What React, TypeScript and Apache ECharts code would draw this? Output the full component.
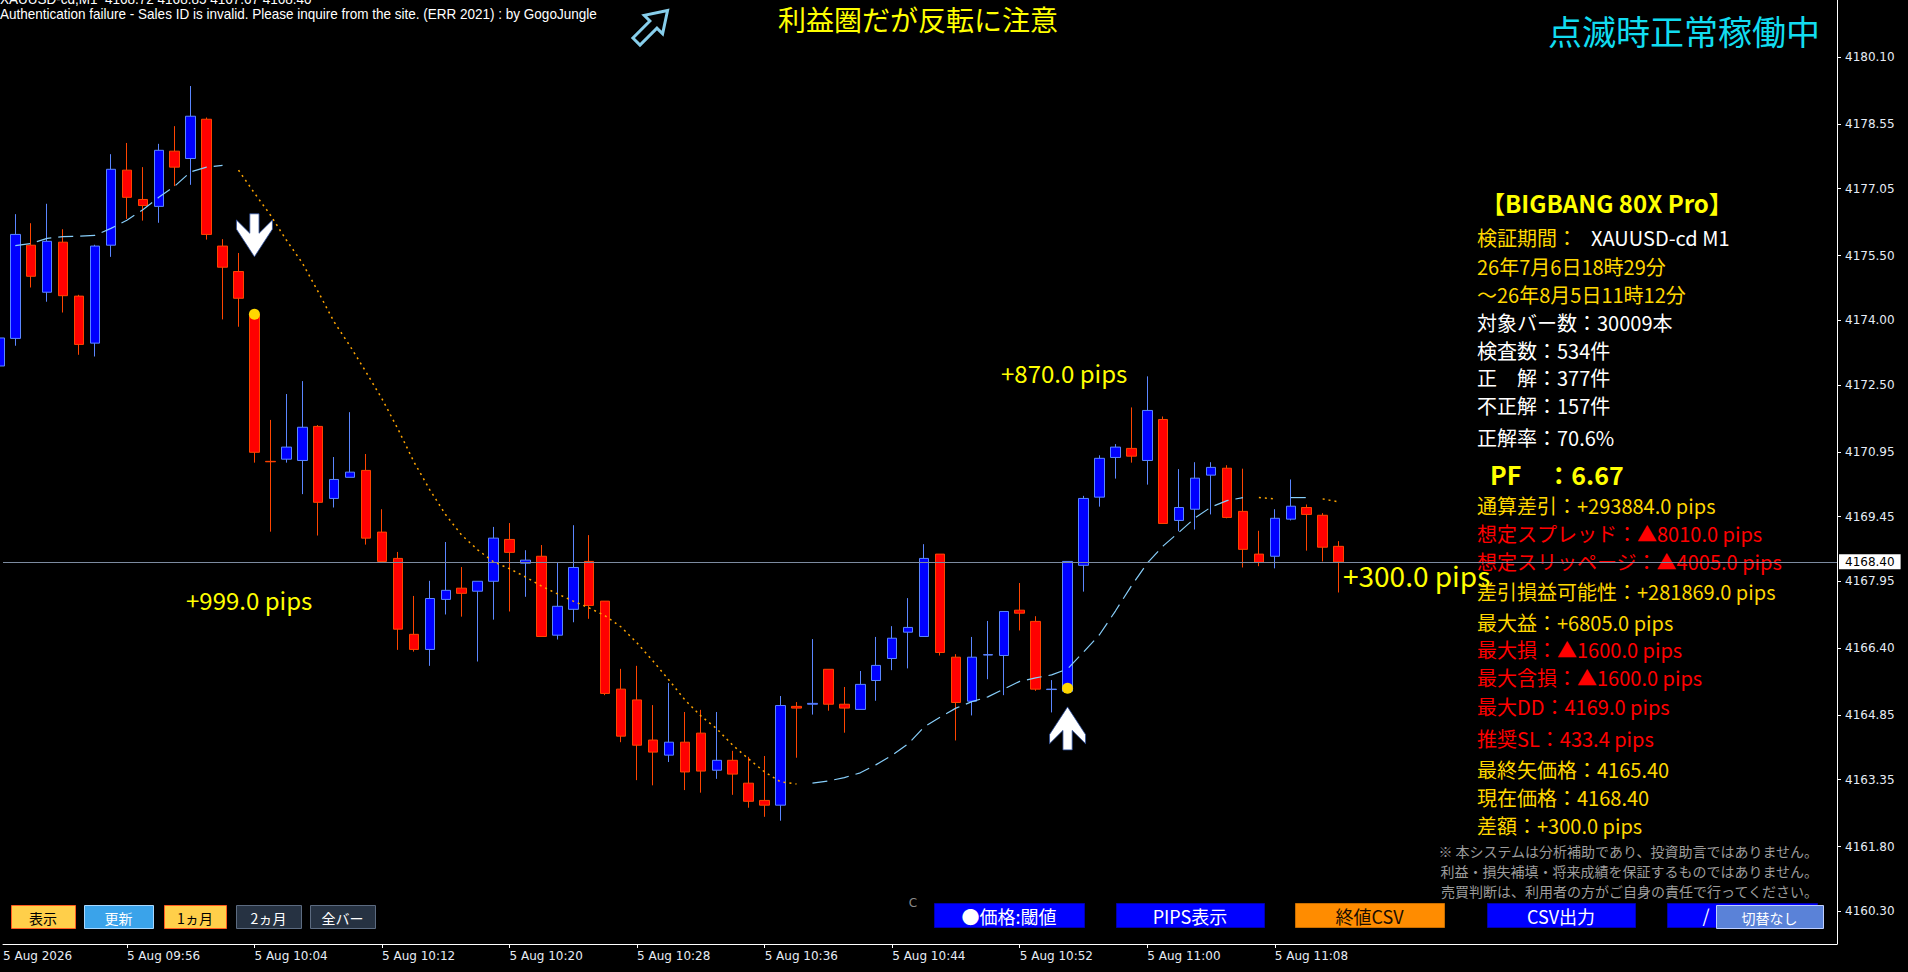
import React, { useEffect, useRef } from "react";
import * as echarts from "echarts";

// ---------- DATA ----------
const FIRST_INDEX = -1; // candle index of the first bar (09:48)
const opens = [4172.94, 4173.58, 4175.74, 4174.65, 4175.81, 4174.56, 4173.47, 4175.74, 4177.48, 4176.80, 4176.64, 4177.92, 4177.75, 4178.66, 4175.72, 4175.13, 4174.11, 4170.73, 4170.78, 4170.75, 4171.54, 4169.87, 4170.36, 4170.52, 4169.09, 4168.48, 4166.72, 4166.37, 4167.53, 4167.79, 4167.72, 4167.95, 4168.92, 4168.37, 4168.53, 4166.70, 4167.30, 4168.41, 4167.49, 4165.45, 4165.20, 4164.27, 4163.92, 4164.22, 4164.43, 4163.57, 4163.80, 4163.27, 4162.87, 4162.76, 4165.05, 4165.10, 4165.91, 4165.10, 4164.98, 4165.65, 4166.16, 4166.77, 4166.67, 4168.58, 4166.19, 4165.17, 4166.24, 4166.23, 4167.28, 4167.02, 4165.44, 4165.40, 4168.32, 4169.90, 4170.82, 4171.03, 4170.75, 4171.70, 4169.36, 4169.62, 4170.41, 4170.57, 4169.57, 4168.58, 4168.53, 4169.39, 4169.66, 4169.48, 4168.76];
const closes = [4173.59, 4175.99, 4175.02, 4175.83, 4174.57, 4173.44, 4175.72, 4177.50, 4176.85, 4176.66, 4177.94, 4177.55, 4178.73, 4175.99, 4175.23, 4174.51, 4170.94, 4170.72, 4171.06, 4171.52, 4169.78, 4170.31, 4170.48, 4168.95, 4168.41, 4166.84, 4166.37, 4167.55, 4167.74, 4167.67, 4167.95, 4168.95, 4168.62, 4168.44, 4166.67, 4167.37, 4168.27, 4167.39, 4165.35, 4164.36, 4164.15, 4163.99, 4164.22, 4163.53, 4163.55, 4163.80, 4163.48, 4162.85, 4162.76, 4165.07, 4165.01, 4165.12, 4165.10, 4165.01, 4165.56, 4166.00, 4166.63, 4166.88, 4168.48, 4166.30, 4165.14, 4166.19, 4166.25, 4167.25, 4167.21, 4165.45, 4165.45, 4168.41, 4169.87, 4170.80, 4171.06, 4170.85, 4171.91, 4169.29, 4169.66, 4170.34, 4170.59, 4169.43, 4168.69, 4168.39, 4169.41, 4169.69, 4169.50, 4168.74, 4168.40];
const lows = [4172.85, 4173.41, 4174.76, 4174.43, 4174.18, 4173.20, 4173.16, 4175.47, 4176.35, 4176.31, 4176.26, 4177.11, 4177.14, 4175.87, 4174.02, 4173.85, 4170.70, 4169.10, 4170.70, 4169.97, 4169.01, 4169.66, 4170.36, 4168.80, 4168.41, 4166.36, 4166.32, 4165.99, 4167.18, 4167.13, 4166.09, 4167.06, 4167.25, 4167.59, 4166.67, 4166.60, 4167.00, 4167.08, 4165.31, 4164.22, 4163.34, 4163.22, 4163.76, 4163.11, 4163.05, 4163.37, 4163.00, 4162.70, 4162.49, 4162.40, 4163.86, 4164.86, 4164.95, 4164.44, 4164.98, 4165.18, 4165.89, 4165.93, 4166.67, 4166.23, 4164.26, 4164.84, 4165.68, 4165.31, 4166.81, 4165.41, 4164.91, 4165.40, 4167.71, 4169.68, 4170.33, 4170.70, 4170.19, 4169.29, 4169.11, 4169.15, 4169.50, 4169.41, 4168.27, 4168.30, 4168.25, 4169.36, 4168.66, 4168.41, 4167.69];
const highs = [4173.82, 4176.46, 4176.25, 4176.70, 4176.11, 4174.59, 4175.75, 4177.85, 4178.11, 4177.55, 4178.09, 4178.50, 4179.43, 4178.70, 4175.88, 4175.56, 4174.12, 4171.69, 4172.29, 4172.59, 4171.57, 4170.83, 4171.87, 4170.90, 4169.62, 4168.63, 4167.61, 4167.96, 4168.86, 4168.28, 4167.95, 4169.21, 4169.30, 4168.67, 4168.79, 4168.39, 4169.25, 4169.02, 4167.49, 4165.92, 4165.99, 4165.08, 4165.59, 4164.92, 4164.97, 4164.92, 4164.02, 4163.88, 4163.90, 4165.29, 4165.15, 4166.61, 4165.91, 4165.50, 4165.87, 4166.66, 4166.91, 4167.56, 4168.81, 4168.58, 4166.26, 4166.66, 4167.03, 4167.25, 4167.91, 4167.14, 4165.66, 4168.41, 4169.93, 4170.87, 4171.13, 4171.98, 4172.70, 4171.77, 4170.55, 4170.71, 4170.71, 4170.64, 4170.56, 4169.12, 4169.62, 4170.31, 4169.73, 4169.53, 4168.88];

// trend line value per candle (index aligned with candles, first bar has none)
const trendLine = [null, 4175.73, 4175.78, 4175.90, 4175.94, 4175.95, 4175.97, 4176.13, 4176.32, 4176.56, 4176.85, 4177.11, 4177.44, 4177.55, 4177.59,
  4177.48, 4176.95, 4176.44, 4175.86, 4175.33, 4174.66, 4173.96, 4173.40, 4172.80, 4172.18, 4171.48, 4170.72, 4170.07, 4169.49, 4169.02, 4168.68, 4168.40, 4168.24, 4168.05, 4167.84, 4167.66, 4167.49, 4167.33, 4167.15, 4166.89, 4166.52, 4166.10, 4165.66, 4165.20, 4164.83, 4164.53, 4164.15, 4163.83, 4163.53, 4163.30, 4163.25,
  4163.27, 4163.32, 4163.40, 4163.51, 4163.70, 4163.92, 4164.18, 4164.57, 4164.80, 4165.01, 4165.16, 4165.27, 4165.45, 4165.63, 4165.71, 4165.78, 4165.92, 4166.31, 4166.71, 4167.26, 4167.84, 4168.37, 4168.77, 4169.09, 4169.42, 4169.67, 4169.82, 4169.89, 4169.89, 4169.86, 4169.89, 4169.89, 4169.86, 4169.79];
const upTrendSegments = [[0, 13], [50, 77], [80, 81]];
const downTrendSegments = [[14, 49], [78, 79], [82, 83]];

const dateLabel = "5 Aug 2026";
const timeTickIndex = [7, 15, 23, 31, 39, 47, 55, 63, 71, 79];
const timeTickLabels = ["5 Aug 09:56", "5 Aug 10:04", "5 Aug 10:12", "5 Aug 10:20", "5 Aug 10:28", "5 Aug 10:36", "5 Aug 10:44", "5 Aug 10:52", "5 Aug 11:00", "5 Aug 11:08"];
const priceTicks = [4180.10, 4178.55, 4177.05, 4175.50, 4174.00, 4172.50, 4170.95, 4169.45, 4167.95, 4166.40, 4164.85, 4163.35, 4161.80, 4160.30];
const currentPrice = 4168.40;

const sellSignal = { index: 15, arrowPrice: 4175.97, dotPrice: 4174.14 };
const buySignal = { index: 66, arrowPrice: 4164.54, dotPrice: 4165.47 };

const panelLines = [
  { text: "26年7月6日18時29分", color: "gold" },
  { text: "～26年8月5日11時12分", color: "gold" },
  { text: "対象バー数：30009本", color: "white" },
  { text: "検査数：534件", color: "white" },
  { text: "正　解：377件", color: "white" },
  { text: "不正解：157件", color: "white" },
  { text: "正解率：70.6%", color: "white" },
];
const statLines = [
  { text: "通算差引：+293884.0 pips", color: "gold" },
  { text: "想定スプレッド：▲8010.0 pips", color: "red" },
  { text: "想定スリッページ：▲4005.0 pips", color: "red" },
  { text: "差引損益可能性：+281869.0 pips", color: "gold" },
  { text: "最大益：+6805.0 pips", color: "gold" },
  { text: "最大損：▲1600.0 pips", color: "red" },
  { text: "最大含損：▲1600.0 pips", color: "red" },
  { text: "最大DD：4169.0 pips", color: "red" },
  { text: "推奨SL：433.4 pips", color: "red" },
  { text: "最終矢価格：4165.40", color: "gold" },
  { text: "現在価格：4168.40", color: "gold" },
  { text: "差額：+300.0 pips", color: "gold" },
];
const disclaimer = [
  "※ 本システムは分析補助であり、投資助言ではありません。",
  "利益・損失補填・将来成績を保証するものではありません。",
  "売買判断は、利用者の方がご自身の責任で行ってください。",
];

// ---------- LAYOUT / STYLE ----------
const W = 1908;
const H = 972;
const X_MIN = -0.77;
const X_MAX = 114.26;
const Y_MIN = 4159.542;
const Y_MAX = 4181.424;
const JP = '"Noto Sans CJK JP", sans-serif';
const COLORS: Record<string, string> = { gold: "#FFD700", white: "#FFFFFF", red: "#FF0000", yellow: "#FFFF00" };

const DOWN_ARROW = "path://M13,0L22,0L22,19L35,6L35,15L17.5,42L0,15L0,6L13,19Z";
const UP_ARROW = "path://M13,42L22,42L22,23L35,36L35,27L17.5,0L0,27L0,36L13,23Z";

function txt(x: number, y: number, text: string, fill: string, font: string, align = "left", extra: any = {}) {
  return {
    type: "text",
    x,
    y,
    silent: true,
    ...extra,
    style: { text, fill, font, textAlign: align, textVerticalAlign: "middle" },
  };
}

function button(x: number, y: number, w: number, h: number, fill: string, stroke: string, label: string, color: string, size: number) {
  return [
    { type: "rect", silent: true, shape: { x: x + 0.5, y: y + 0.5, width: w, height: h }, style: { fill, stroke, lineWidth: 1 } },
    txt(x + w / 2, y + h / 2 + 1, label, color, `${size}px ${JP}`, "center"),
  ];
}

export default function App() {
  const ref = useRef<HTMLDivElement>(null);

  useEffect(() => {
    if (!ref.current) return;
    const chart = echarts.init(ref.current, null, { renderer: "svg" });

    const candles = opens.map((o, i) => [i + FIRST_INDEX, o, closes[i], lows[i], highs[i]]);
    const seg = (a: number, b: number) => {
      const out: any[] = [];
      for (let k = a; k <= b; k++) out.push([k, trendLine[k - FIRST_INDEX]]);
      return out;
    };
    const lineSeries: any[] = [];
    upTrendSegments.forEach(([a, b]) =>
      lineSeries.push({
        type: "line", data: seg(a, b), showSymbol: false, silent: true, z: 3,
        lineStyle: { color: "#87CEFA", width: 1.2, type: [15, 7] },
      })
    );
    downTrendSegments.forEach(([a, b]) =>
      lineSeries.push({
        type: "line", data: seg(a, b), showSymbol: false, silent: true, z: 3,
        lineStyle: { color: "#FFA500", width: 1.5, type: [2, 4] },
      })
    );

    const graphic: any[] = [];
    // top texts (the first line is partly above the top edge, as in the terminal)
    graphic.push(txt(0, -1, "XAUUSD-cd,M1  4168.72 4168.85 4167.67 4168.40", "#FFFFFF", '14px "Liberation Sans"', "left", { scaleX: 0.965 }));
    graphic.push(txt(0, 14, "Authentication failure - Sales ID is invalid. Please inquire from the site. (ERR 2021) : by GogoJungle", "#FFFFFF", '14px "Liberation Sans"', "left", { scaleX: 0.965 }));
    graphic.push({
      type: "polygon", silent: true, x: 652, y: 26, rotation: -Math.PI / 4,
      shape: { points: [[-5, 22], [5, 22], [5, -2], [13, -2], [0, -22], [-13, -2], [-5, -2]] },
      style: { fill: "none", stroke: "#87CEEB", lineWidth: 3 },
    });
    graphic.push(txt(778, 19, "利益圏だが反転に注意", COLORS.yellow, `28px ${JP}`));
    graphic.push(txt(1820, 30, "点滅時正常稼働中", "#12DCF0", `34px ${JP}`, "right"));

    // pips annotations
    graphic.push(txt(186, 599, "+999.0 pips", COLORS.yellow, `24px ${JP}`));
    graphic.push(txt(1001, 372, "+870.0 pips", COLORS.yellow, `24px ${JP}`));
    graphic.push(txt(1343, 575, "+300.0 pips", COLORS.yellow, `28px ${JP}`));

    // right panel
    graphic.push(txt(1481, 202, "【BIGBANG 80X Pro】", COLORS.yellow, `bold 24px ${JP}`));
    graphic.push(txt(1477, 237, "検証期間：", COLORS.gold, `20px ${JP}`));
    graphic.push(txt(1591, 237, "XAUUSD-cd M1", COLORS.white, `20px ${JP}`));
    const panelY = [266, 294, 322, 350, 377, 405, 437];
    panelLines.forEach((l, i) => graphic.push(txt(1477, panelY[i], l.text, COLORS[l.color], `20px ${JP}`)));
    graphic.push(txt(1490, 474, "PF　：6.67", COLORS.yellow, `bold 25px ${JP}`));
    const statY = [505, 533, 561, 591, 622, 649, 677, 706, 738, 769, 797, 825];
    statLines.forEach((l, i) => graphic.push(txt(1477, statY[i], l.text, COLORS[l.color], `20px ${JP}`)));
    disclaimer.forEach((d, i) => graphic.push(txt(1818, 851 + i * 20, d, "#9C9C9C", `14px ${JP}`, "right")));

    // buttons
    graphic.push(...button(11, 905, 64, 23, "#FFCF4A", "#FF5A1F", "表示", "#000000", 14));
    graphic.push(...button(84, 905, 69, 23, "#3AA3EA", "#A8D8FF", "更新", "#FFFFFF", 14));
    graphic.push(...button(164, 905, 62, 23, "#FFCF4A", "#FF5A1F", "1ヵ月", "#000000", 14));
    graphic.push(...button(236, 905, 65, 23, "#263242", "#5C6B80", "2ヵ月", "#FFFFFF", 14));
    graphic.push(...button(310, 905, 65, 23, "#263242", "#5C6B80", "全バー", "#FFFFFF", 14));
    graphic.push(txt(913, 903, "C", "#8A8A8A", '12px "DejaVu Sans"', "center"));
    graphic.push(...button(934, 903, 150, 24, "#0000FF", "#0000B0", "●価格:閾値", "#FFFFFF", 18));
    graphic.push(...button(1116, 903, 148, 24, "#0000FF", "#0000B0", "PIPS表示", "#FFFFFF", 18));
    graphic.push(...button(1295, 903, 149, 24, "#FF8C00", "#C86E00", "終値CSV", "#1A0D00", 18));
    graphic.push(...button(1487, 903, 148, 24, "#0000FF", "#0000B0", "CSV出力", "#FFFFFF", 18));
    graphic.push(...button(1667, 903, 150, 24, "#0000FF", "#0000B0", "", "#FFFFFF", 18));
    graphic.push(txt(1706, 915, "/", "#FFFFFF", `18px ${JP}`, "center"));
    graphic.push(...button(1716, 905, 107, 23, "#5A82D8", "#C0D0FF", "切替なし", "#FFFFFF", 14));

    const option: any = {
      animation: false,
      backgroundColor: "#000000",
      grid: { left: 0, top: 0, right: W - 1837, bottom: H - 944 },
      xAxis: {
        type: "value",
        min: X_MIN,
        max: X_MAX,
        splitLine: { show: false },
        axisLine: { show: true, onZero: false, lineStyle: { color: "#FFFFFF", width: 1 } },
        axisTick: { show: true, customValues: timeTickIndex, length: 4, lineStyle: { color: "#FFFFFF" } },
        axisLabel: {
          customValues: [X_MIN, ...timeTickIndex],
          formatter: (v: number) => {
            if (Math.abs(v - X_MIN) < 0.01) return dateLabel;
            const i = timeTickIndex.indexOf(Math.round(v));
            return i >= 0 ? timeTickLabels[i] : "";
          },
          align: "left",
          color: "#E6ECF5",
          fontFamily: "DejaVu Sans",
          fontSize: 12,
          margin: 6,
        },
      },
      yAxis: {
        type: "value",
        position: "right",
        min: Y_MIN,
        max: Y_MAX,
        splitLine: { show: false },
        axisLine: { show: true, onZero: false, lineStyle: { color: "#FFFFFF", width: 1 } },
        axisTick: { show: true, customValues: priceTicks, length: 4, lineStyle: { color: "#FFFFFF" } },
        axisLabel: {
          customValues: priceTicks,
          formatter: (v: number) => v.toFixed(2),
          color: "#E6ECF5",
          fontFamily: "DejaVu Sans",
          fontSize: 12,
          margin: 8,
        },
      },
      series: [
        {
          type: "candlestick",
          data: candles,
          encode: { x: 0, y: [1, 2, 3, 4] },
          barWidth: 10,
          silent: true,
          z: 2,
          itemStyle: { color: "#0000FF", color0: "#FF0000", borderColor: "#5B86FF", borderColor0: "#FF4500", borderWidth: 1 },
          markLine: {
            silent: true,
            symbol: ["none", "none"],
            animation: false,
            lineStyle: { color: "#7C8BA0", width: 1, type: "solid" },
            label: {
              show: true,
              position: "end",
              formatter: currentPrice.toFixed(2),
              color: "#000000",
              backgroundColor: "#FFFFFF",
              padding: [2, 6, 1, 6],
              fontFamily: "DejaVu Sans",
              fontSize: 12,
              distance: 2,
            },
            data: [{ yAxis: currentPrice }],
          },
        },
        ...lineSeries,
        {
          type: "scatter",
          silent: true,
          z: 5,
          symbolSize: [36, 43],
          itemStyle: { color: "#FFFFFF", opacity: 1, borderColor: "#2B4C9A", borderWidth: 0.8 },
          data: [
            { value: [sellSignal.index, sellSignal.arrowPrice], symbol: DOWN_ARROW },
            { value: [buySignal.index, buySignal.arrowPrice], symbol: UP_ARROW },
          ],
        },
        {
          type: "scatter",
          silent: true,
          z: 6,
          symbol: "circle",
          symbolSize: 11,
          itemStyle: { color: "#FFD700", opacity: 1 },
          data: [
            [sellSignal.index, sellSignal.dotPrice],
            [buySignal.index, buySignal.dotPrice],
          ],
        },
      ],
      graphic,
    };
    chart.setOption(option);
    return () => chart.dispose();
  }, []);

  return (
    <div
      ref={ref}
      style={{ position: "fixed", left: 0, top: 0, width: W, height: H, background: "#000" }}
    />
  );
}
